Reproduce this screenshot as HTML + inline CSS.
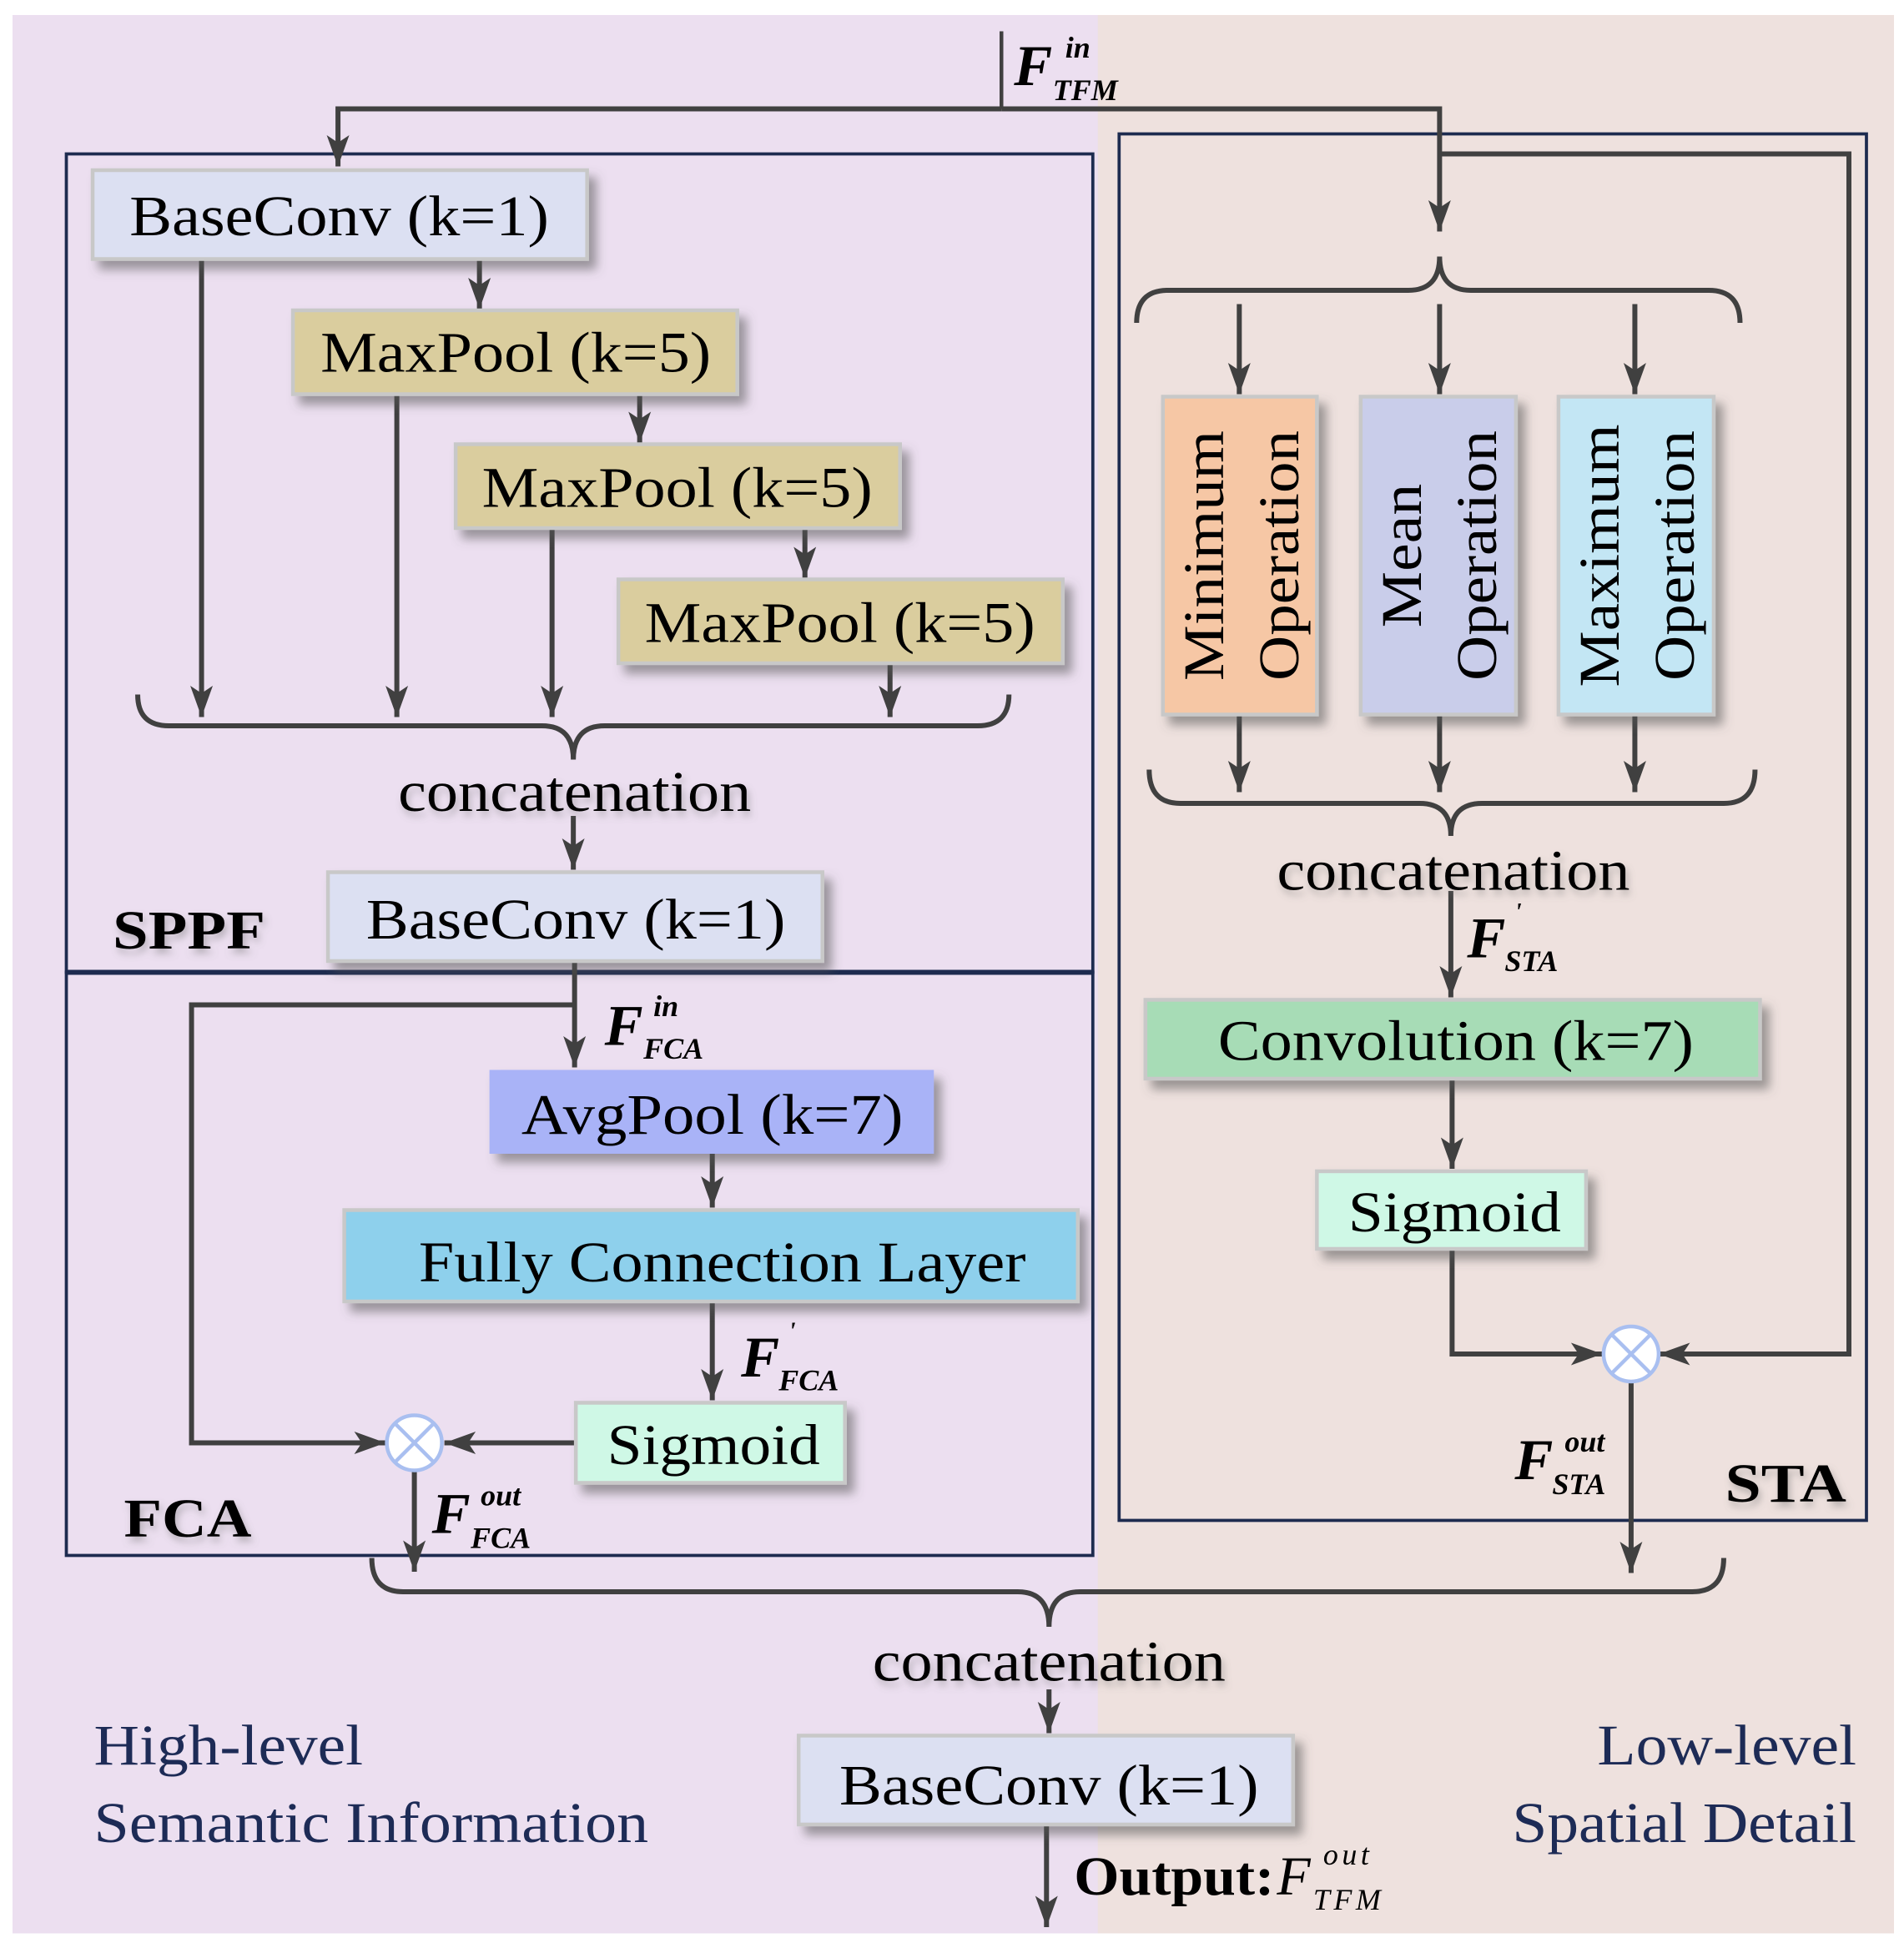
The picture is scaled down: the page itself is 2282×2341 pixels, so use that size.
<!DOCTYPE html>
<html><head><meta charset="utf-8"><style>
html,body{margin:0;padding:0;background:#fff;}
svg{display:block;}
text{font-family:"Liberation Serif","Times New Roman",Tinos,serif;fill:#000;}
.lbl{font-size:46px;text-anchor:middle;}
.fl{font-weight:bold;font-style:italic;}
</style></head><body>
<svg width="2282" height="2341" viewBox="0 0 1521 1560.7" preserveAspectRatio="none" xmlns="http://www.w3.org/2000/svg">
<defs>
<marker id="a" viewBox="-26 -10 28 20" refX="0" refY="0" markerWidth="28" markerHeight="20" markerUnits="userSpaceOnUse" orient="auto">
<path d="M0,0 L-25,-9 L-19,0 L-25,9 Z" fill="#404040"/>
</marker>
<filter id="sh" x="-10%" y="-10%" width="130%" height="140%">
<feDropShadow dx="6" dy="7" stdDeviation="4" flood-color="#555" flood-opacity="0.55"/>
</filter>
<filter id="ts" x="-10%" y="-20%" width="130%" height="160%">
<feDropShadow dx="2" dy="4" stdDeviation="3" flood-color="#777" flood-opacity="0.45"/>
</filter>
</defs>
<rect x="10" y="12" width="868" height="1533" fill="#ecdff0"/>
<rect x="877" y="12" width="636" height="1533" fill="#eee1de"/>

<rect x="53" y="123" width="820" height="654" fill="none" stroke="#1d2b4f" stroke-width="2.5"/>
<rect x="53" y="777" width="820" height="466" fill="none" stroke="#1d2b4f" stroke-width="2.5"/>
<line x1="53" y1="777" x2="873" y2="777" stroke="#1d2b4f" stroke-width="4"/>
<rect x="894" y="107" width="597" height="1108" fill="none" stroke="#1d2b4f" stroke-width="2.5"/>

<g stroke="#404040" stroke-width="4" fill="none">
<line x1="800" y1="25" x2="800" y2="87" stroke-width="3"/>
<polyline points="800,87 270,87 270,133" marker-end="url(#a)"/>
<polyline points="800,87 1150,87 1150,185" marker-end="url(#a)"/>
<polyline points="1150,123 1477,123 1477,1082 1325,1082" marker-end="url(#a)"/>
<line x1="383" y1="207" x2="383" y2="247" marker-end="url(#a)"/>
<line x1="511" y1="315" x2="511" y2="354" marker-end="url(#a)"/>
<line x1="643" y1="422" x2="643" y2="462" marker-end="url(#a)"/>
<line x1="161" y1="207" x2="161" y2="573" marker-end="url(#a)"/>
<line x1="317" y1="315" x2="317" y2="573" marker-end="url(#a)"/>
<line x1="441" y1="422" x2="441" y2="573" marker-end="url(#a)"/>
<line x1="711" y1="530" x2="711" y2="573" marker-end="url(#a)"/>
<path d="M110,555 Q110,580 135,580 H433 Q458,580 458,607 Q458,580 483,580 H781 Q806,580 806,555"/>
<line x1="458" y1="652" x2="458" y2="695" marker-end="url(#a)"/>
<line x1="459" y1="768" x2="459" y2="853" marker-end="url(#a)"/>
<polyline points="459,803 153,803 153,1153 308,1153" marker-end="url(#a)"/>
<line x1="569" y1="922" x2="569" y2="965" marker-end="url(#a)"/>
<line x1="569" y1="1040" x2="569" y2="1119" marker-end="url(#a)"/>
<line x1="460" y1="1153" x2="355" y2="1153" marker-end="url(#a)"/>
<line x1="331" y1="1176" x2="331" y2="1256" marker-end="url(#a)"/>
<path d="M297,1245 Q297,1272 322,1272 H813 Q838,1272 838,1300 Q838,1272 863,1272 H1352 Q1377,1272 1377,1245"/>
<line x1="838" y1="1350" x2="838" y2="1385" marker-end="url(#a)"/>
<line x1="836" y1="1458" x2="836" y2="1540" marker-end="url(#a)"/>
<path d="M908,258 Q908,232 933,232 H1125 Q1150,232 1150,205 Q1150,232 1175,232 H1365 Q1390,232 1390,258"/>
<line x1="990" y1="243" x2="990" y2="315" marker-end="url(#a)"/>
<line x1="1150" y1="243" x2="1150" y2="315" marker-end="url(#a)"/>
<line x1="1306" y1="243" x2="1306" y2="315" marker-end="url(#a)"/>
<line x1="990" y1="571" x2="990" y2="633" marker-end="url(#a)"/>
<line x1="1150" y1="571" x2="1150" y2="633" marker-end="url(#a)"/>
<line x1="1306" y1="571" x2="1306" y2="633" marker-end="url(#a)"/>
<path d="M918,615 Q918,642 943,642 H1134 Q1159,642 1159,668 Q1159,642 1184,642 H1377 Q1402,642 1402,615"/>
<line x1="1159" y1="712" x2="1159" y2="797" marker-end="url(#a)"/>
<line x1="1160" y1="862" x2="1160" y2="934" marker-end="url(#a)"/>
<polyline points="1160,998 1160,1082 1280,1082" marker-end="url(#a)"/>
<line x1="1303" y1="1105" x2="1303" y2="1257" marker-end="url(#a)"/>
</g>

<g stroke="#c8c8c8" stroke-width="3" filter="url(#sh)">
<rect x="74" y="136" width="395" height="71" fill="#dce0f2"/>
<rect x="234" y="248" width="355" height="67" fill="#dacd9e"/>
<rect x="364" y="355" width="355" height="67" fill="#dacd9e"/>
<rect x="494" y="463" width="355" height="67" fill="#dacd9e"/>
<rect x="262" y="697" width="395" height="71" fill="#dce0f2"/>
<rect x="391" y="855" width="355" height="67" fill="#a9b3f7" stroke="none"/>
<rect x="275" y="967" width="586" height="73" fill="#8ed0ec"/>
<rect x="460" y="1121" width="215" height="64" fill="#cff8e6"/>
<rect x="638" y="1387" width="395" height="71" fill="#dce0f2"/>
<rect x="929" y="317" width="123" height="254" fill="#f6c7a5"/>
<rect x="1087" y="317" width="124" height="254" fill="#c9cdea"/>
<rect x="1245" y="317" width="124" height="254" fill="#c3e6f4"/>
<rect x="915" y="799" width="491" height="63" fill="#a7dcb6"/>
<rect x="1052" y="936" width="215" height="62" fill="#cff8e6"/>
</g>
<g stroke="#a9bff0" stroke-width="3">
<circle cx="331" cy="1153" r="22" fill="#fff"/>
<line x1="316" y1="1138" x2="346" y2="1168"/><line x1="346" y1="1138" x2="316" y2="1168"/>
<circle cx="1303" cy="1082" r="22" fill="#fff"/>
<line x1="1288" y1="1067" x2="1318" y2="1097"/><line x1="1318" y1="1067" x2="1288" y2="1097"/>
</g>

<g>
<text x="271" y="188" class="lbl" textLength="335" lengthAdjust="spacingAndGlyphs">BaseConv (k=1)</text>
<text x="412" y="297" class="lbl" textLength="312" lengthAdjust="spacingAndGlyphs">MaxPool (k=5)</text>
<text x="541" y="405" class="lbl" textLength="312" lengthAdjust="spacingAndGlyphs">MaxPool (k=5)</text>
<text x="671" y="513" class="lbl" textLength="312" lengthAdjust="spacingAndGlyphs">MaxPool (k=5)</text>
<text x="459" y="648" class="lbl" filter="url(#ts)" textLength="282" lengthAdjust="spacingAndGlyphs">concatenation</text>
<text x="460" y="750" class="lbl" textLength="335" lengthAdjust="spacingAndGlyphs">BaseConv (k=1)</text>
<text x="569" y="906" class="lbl" textLength="305" lengthAdjust="spacingAndGlyphs">AvgPool (k=7)</text>
<text x="577" y="1024" class="lbl" textLength="485" lengthAdjust="spacingAndGlyphs">Fully Connection Layer</text>
<text x="570" y="1170" class="lbl" textLength="170" lengthAdjust="spacingAndGlyphs">Sigmoid</text>
<text x="838" y="1343" class="lbl" filter="url(#ts)" textLength="282" lengthAdjust="spacingAndGlyphs">concatenation</text>
<text x="838" y="1442" class="lbl" textLength="335" lengthAdjust="spacingAndGlyphs">BaseConv (k=1)</text>
<text x="1161" y="711" class="lbl" filter="url(#ts)" textLength="282" lengthAdjust="spacingAndGlyphs">concatenation</text>
<text x="1163" y="847" class="lbl" textLength="380" lengthAdjust="spacingAndGlyphs">Convolution (k=7)</text>
<text x="1162" y="984" class="lbl" textLength="170" lengthAdjust="spacingAndGlyphs">Sigmoid</text>
</g>
<g font-size="46" text-anchor="middle">
<text transform="translate(977,444) rotate(-90)" textLength="200" lengthAdjust="spacingAndGlyphs">Minimum</text>
<text transform="translate(1037,444) rotate(-90)" textLength="200" lengthAdjust="spacingAndGlyphs">Operation</text>
<text transform="translate(1135,444) rotate(-90)" textLength="115" lengthAdjust="spacingAndGlyphs">Mean</text>
<text transform="translate(1195,444) rotate(-90)" textLength="200" lengthAdjust="spacingAndGlyphs">Operation</text>
<text transform="translate(1293,444) rotate(-90)" textLength="210" lengthAdjust="spacingAndGlyphs">Maximum</text>
<text transform="translate(1353,444) rotate(-90)" textLength="200" lengthAdjust="spacingAndGlyphs">Operation</text>
</g>
<g font-weight="bold" font-size="44" filter="url(#ts)">
<text x="90" y="758" textLength="122" lengthAdjust="spacingAndGlyphs">SPPF</text>
<text x="99" y="1228" textLength="102" lengthAdjust="spacingAndGlyphs">FCA</text>
<text x="1378" y="1200" textLength="97" lengthAdjust="spacingAndGlyphs">STA</text>
</g>
<g>
<text x="810" y="68" font-size="46" class="fl">F</text><text x="851" y="46" font-size="24" class="fl">in</text><text x="841" y="80" font-size="24" class="fl">TFM</text>
<text x="483" y="835" font-size="46" class="fl">F</text><text x="522" y="812" font-size="24" class="fl">in</text><text x="514" y="846" font-size="24" class="fl">FCA</text>
<text x="592" y="1100" font-size="46" class="fl">F</text><text x="630" y="1070" font-size="20" class="fl">'</text><text x="622" y="1111" font-size="24" class="fl">FCA</text>
<text x="345" y="1225" font-size="46" class="fl">F</text><text x="384" y="1203" font-size="24" class="fl">out</text><text x="376" y="1237" font-size="24" class="fl">FCA</text>
<text x="1172" y="765" font-size="46" class="fl">F</text><text x="1210" y="735" font-size="20" class="fl">'</text><text x="1202" y="776" font-size="24" class="fl">STA</text>
<text x="1210" y="1182" font-size="46" class="fl">F</text><text x="1250" y="1160" font-size="24" class="fl">out</text><text x="1240" y="1194" font-size="24" class="fl">STA</text>
</g>
<text x="858" y="1514" font-size="44" font-weight="bold" textLength="160" lengthAdjust="spacingAndGlyphs">Output:</text>
<text x="1020" y="1514" font-size="44" font-style="italic">F</text>
<text x="1057" y="1490" font-size="24" font-style="italic" letter-spacing="3">out</text>
<text x="1049" y="1526" font-size="24" font-style="italic" letter-spacing="3">TFM</text>
<g font-size="46">
<text x="75" y="1410" style="fill:#1d2b56" textLength="215" lengthAdjust="spacingAndGlyphs">High-level</text>
<text x="75" y="1472" style="fill:#1d2b56" textLength="443" lengthAdjust="spacingAndGlyphs">Semantic Information</text>
<text x="1483" y="1410" text-anchor="end" style="fill:#1d2b56" textLength="207" lengthAdjust="spacingAndGlyphs">Low-level</text>
<text x="1483" y="1472" text-anchor="end" style="fill:#1d2b56" textLength="275" lengthAdjust="spacingAndGlyphs">Spatial Detail</text>
</g>
</svg>
</body></html>
